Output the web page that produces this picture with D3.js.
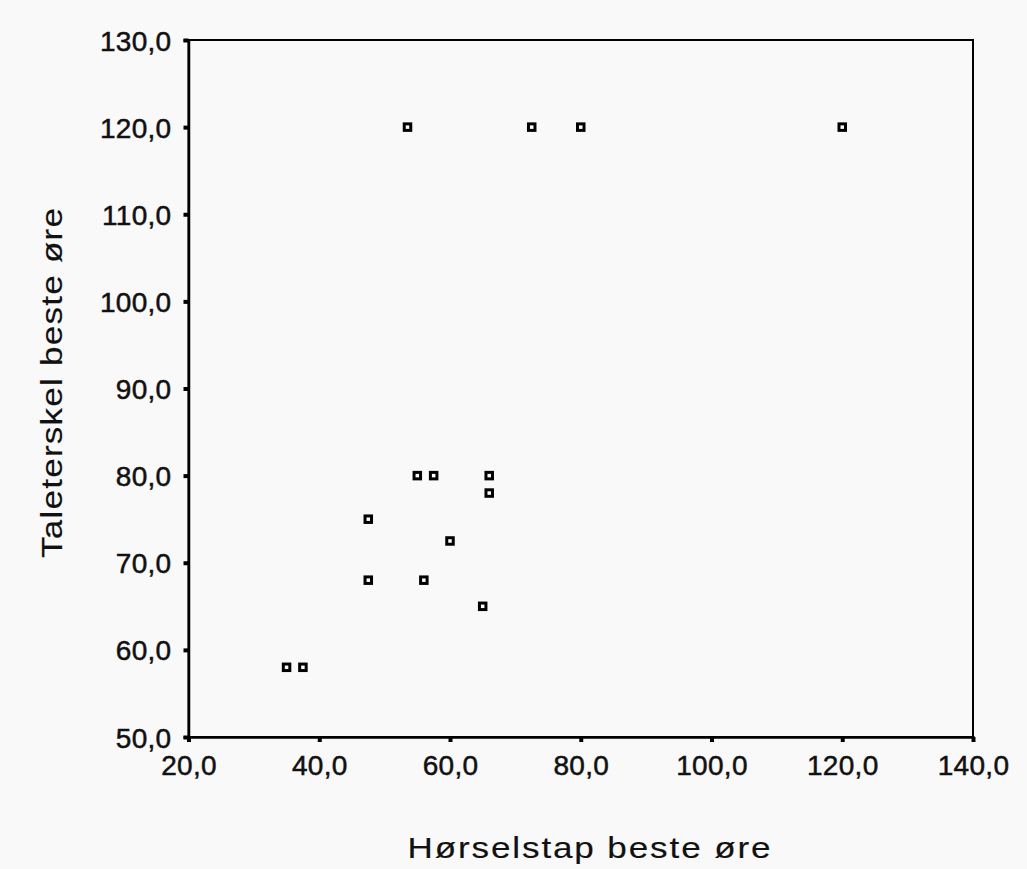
<!DOCTYPE html>
<html>
<head>
<meta charset="utf-8">
<script src="https://cdn.jsdelivr.net/npm/d3@7"></script>
<style>
  html, body { margin: 0; padding: 0; background: #f9f9f9; }
  svg { display: block; }
  text { font-family: "Liberation Sans", Arial, sans-serif; fill: #111; }
</style>
</head>
<body>
<svg id="chart" width="1027" height="869"></svg>
<script>
// Hearing loss (best ear) vs speech threshold (best ear)
const horselstap = [35, 37.5, 47.5, 47.5, 53.5, 55, 56, 57.5, 60, 65, 66, 66, 72.5, 80, 120];
const taleterskel = [58, 58, 75, 68, 120, 80, 68, 80, 72.5, 65, 80, 78, 120, 120, 120];

const xTicks = [20, 40, 60, 80, 100, 120, 140];
const yTicks = [50, 60, 70, 80, 90, 100, 110, 120, 130];

const xTitle = "Hørselstap beste øre";
const yTitle = "Taleterskel beste øre";

const fmt = v => d3.format(".1f")(v).replace(".", ",");

const svg = d3.select("#chart");
const margin = { left: 188.5, right: 1027 - 973, top: 40, bottom: 869 - 737 };
const W = 1027, H = 869;

const x = d3.scaleLinear().domain([20, 140]).range([margin.left, W - margin.right]);
const y = d3.scaleLinear().domain([50, 130]).range([H - margin.bottom, margin.top]);

// Frame (top and right edges)
svg.append("rect")
  .attr("x", x(20)).attr("y", y(130))
  .attr("width", x(140) - x(20)).attr("height", y(50) - y(130))
  .attr("fill", "none").attr("stroke", "#000").attr("stroke-width", 2);

// Axes
const xAxis = d3.axisBottom(x).tickValues(xTicks).tickFormat(fmt).tickSize(5).tickPadding(13);
const yAxis = d3.axisLeft(y).tickValues(yTicks).tickFormat(fmt).tickSize(5).tickPadding(12);

const gx = svg.append("g").attr("transform", `translate(0,${y(50)})`).call(xAxis);
const gy = svg.append("g").attr("transform", `translate(${x(20)},0)`).call(yAxis);

[gx, gy].forEach(g => {
  g.attr("font-family", null).attr("font-size", null);
  g.select(".domain").attr("stroke", "#000").attr("stroke-width", 2.5);
  g.selectAll(".tick line").attr("stroke", "#000").attr("stroke-width", 4);
  g.selectAll(".tick text")
    .attr("font-size", 28)
    .attr("fill", "#111")
    .attr("stroke", "#111").attr("stroke-width", 0.5)
    .style("letter-spacing", "0.3px");
});
gy.selectAll(".tick text").attr("dy", "0.36em");

// Points: small hollow squares
const pts = horselstap.map((h, i) => ({ h, t: taleterskel[i] }));
svg.append("g").selectAll("rect").data(pts).join("rect")
  .attr("x", d => x(d.h) - 3.25)
  .attr("y", d => y(d.t) - 3.25)
  .attr("width", 6.5).attr("height", 6.5)
  .attr("fill", "#fff").attr("stroke", "#000").attr("stroke-width", 3);

// Axis titles (wide, slightly stretched lettering)
const stretch = 1.17;
svg.append("text")
  .attr("transform", `translate(589,858) scale(${stretch},1)`)
  .attr("text-anchor", "middle")
  .attr("font-size", 30)
  .attr("stroke", "#111").attr("stroke-width", 0.15)
  .attr("textLength", 363 / stretch).attr("lengthAdjust", "spacing")
  .text(xTitle);

svg.append("text")
  .attr("transform", `translate(62,383) rotate(-90) scale(${stretch},1)`)
  .attr("text-anchor", "middle")
  .attr("font-size", 30)
  .attr("stroke", "#111").attr("stroke-width", 0.15)
  .attr("textLength", 350 / stretch).attr("lengthAdjust", "spacing")
  .text(yTitle);
</script>
</body>
</html>
